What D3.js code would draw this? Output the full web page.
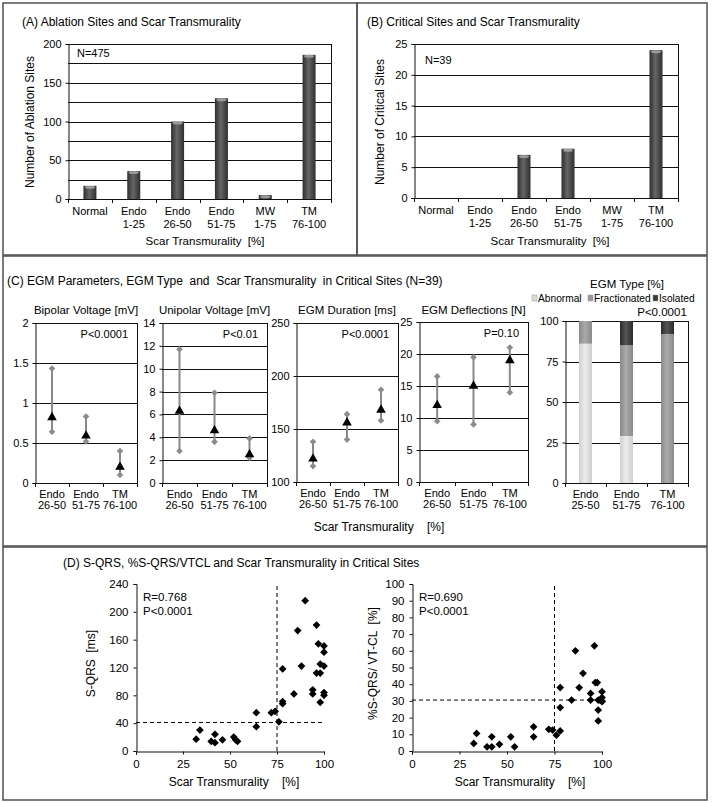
<!DOCTYPE html>
<html><head><meta charset="utf-8">
<script src="https://cdn.jsdelivr.net/npm/d3@7"></script>
<style>
body{margin:0;background:#fff;}
svg text{font-family:"Liberation Sans",Arial,sans-serif;fill:#000;white-space:pre;}
</style></head><body>
<svg id="c" width="712" height="803"></svg>
<script>
// ---------------- DATA ----------------
const catsAB = ["Normal", "Endo\n1-25", "Endo\n26-50", "Endo\n51-75", "MW\n1-75", "TM\n76-100"];
const ablationSites = [17, 36, 100, 130, 5, 186];
const criticalSites = [0, 0, 7, 8, 0, 24];
const ticksA = [0, 50, 100, 150, 200];
const ticksB = [0, 5, 10, 15, 20, 25];

const catsC = ["Endo\n26-50", "Endo\n51-75", "TM\n76-100"];
const bipolarMedian = [0.82, 0.59, 0.20];
const bipolarLow = [0.64, 0.52, 0.10];
const bipolarHigh = [1.43, 0.83, 0.40];
const unipolarMedian = [6.3, 4.6, 2.5];
const unipolarLow = [2.8, 3.6, 2.2];
const unipolarHigh = [11.7, 7.9, 3.9];
const durationMedian = [122, 156, 168];
const durationLow = [115, 140, 158];
const durationHigh = [138, 164, 187];
const deflMedian = [12, 15, 19];
const deflLow = [9.5, 9, 14];
const deflHigh = [16.5, 19.5, 21];

const catsType = ["Endo\n25-50", "Endo\n51-75", "TM\n76-100"];
const typeKeys = ["Abnormal", "Fractionated", "Isolated"];
const abnormalPct = [86, 29, 0];
const fractionatedPct = [14, 56, 92];
const isolatedPct = [0, 15, 8];

const sqrsPoints = [[32,17],[34,30],[40,14],[42,24],[42,12],[46,16],[52,20],[53,16],[54,14],
  [64,55],[64,35],[72,55],[74,57],[76,42],[78,71],[78,68],[78,118],
  [84,82],[88,122],[86,173],[90,216],[94,88],[94,82],[96,181],[97,154],[96,112],[98,112],
  [98,125],[98,70],[100,151],[100,142],[100,122],[100,84],[100,80]];
const pctPoints = [[32.5,4.5],[34,10.5],[39.5,2.5],[42,8.5],[42,2.5],[46,4],[52,8.5],[54,2.5],
  [64,14.5],[64,8.5],[72,13],[74,12.5],[76,9.5],[78,12],[78,26],[78,38],
  [84,30.5],[86,60],[88,38],[90,46.5],[94,34.5],[94,30.5],[96,63],[96.5,41],[97.5,41],
  [98,30.5],[98,24.5],[98,18],[99,30.5],[100,35.5],[100,32],[100,30],[100,29.5]];
const scatterXTicks = [0, 25, 50, 75, 100];
const sqrsTicks = [0, 40, 80, 120, 160, 200, 240];
const pctTicks = [0,10,20,30,40,50,60,70,80,90,100];

// ---------------- DRAW ----------------
const svg = d3.select("#c");
const defs = svg.append("defs");
function grad(id, c0, c1) {
  const g = defs.append("linearGradient").attr("id", id).attr("x1","0").attr("x2","1").attr("y1","0").attr("y2","0");
  g.append("stop").attr("offset","0%").attr("stop-color",c0);
  g.append("stop").attr("offset","45%").attr("stop-color",c1);
  g.append("stop").attr("offset","100%").attr("stop-color",c0);
}
grad("gBar", "#2e2e2e", "#666666");
grad("gAb", "#cfcfcf", "#ececec");
grad("gFr", "#8a8a8a", "#aaaaaa");
grad("gIs", "#2a2a2a", "#555555");

// frames
const frame = svg.append("g").attr("fill","none").attr("stroke","#505050").attr("stroke-width",1.5);
frame.append("rect").attr("x",3).attr("y",3).attr("width",354).attr("height",252);
frame.append("rect").attr("x",357).attr("y",3).attr("width",350).attr("height",252);
frame.append("rect").attr("x",3).attr("y",256).attr("width",704).attr("height",290);
frame.append("rect").attr("x",3).attr("y",547).attr("width",704).attr("height",253);

function txt(x, y, s, size, anchor) {
  return svg.append("text").attr("x",x).attr("y",y).attr("font-size",size||12)
    .attr("text-anchor",anchor||"start").text(s);
}
function vtxt(x, y, s, size) {
  return svg.append("text").attr("transform",`translate(${x},${y}) rotate(-90)`)
    .attr("font-size",size||12).attr("text-anchor","middle").attr("dominant-baseline","central").text(s);
}

function yFrame(x0, x1, y0, y1, domain, ticks, grid, fmt, box) {
  const y = d3.scaleLinear().domain(domain).range([y1, y0]);
  const g = svg.append("g");
  g.selectAll("line.grid").data(grid).join("line")
    .attr("x1",x0).attr("x2",x1).attr("y1",d=>Math.round(y(d))+0.5).attr("y2",d=>Math.round(y(d))+0.5)
    .attr("stroke","#111").attr("stroke-width",1);
  if (box) g.append("line").attr("x1",x1+0.5).attr("x2",x1+0.5).attr("y1",y0).attr("y2",y1).attr("stroke","#111");
  const ax = svg.append("g").attr("transform",`translate(${x0+0.5},0)`)
    .call(d3.axisLeft(y).tickValues(ticks).tickSize(3).tickPadding(4).tickFormat(fmt || d3.format("")));
  ax.selectAll("text").attr("font-size",11).attr("font-family",null);
  ax.selectAll("path,line").attr("stroke","#111");
  return y;
}
function bandAxis(x0, x1, y1, cats, lineH, firstDy) {
  const x = d3.scaleBand().domain(cats).range([x0, x1]);
  const g = svg.append("g");
  g.append("line").attr("x1",x0).attr("x2",x1).attr("y1",y1+0.5).attr("y2",y1+0.5).attr("stroke","#111");
  const bounds = cats.map(c => x(c)).concat([x1]);
  g.selectAll("line.t").data(bounds).join("line")
    .attr("x1",d=>Math.round(d)+0.5).attr("x2",d=>Math.round(d)+0.5).attr("y1",y1).attr("y2",y1+4).attr("stroke","#111");
  cats.forEach(c => {
    const t = g.append("text").attr("font-size",11).attr("text-anchor","middle")
      .attr("x", x(c) + x.bandwidth()/2).attr("y", y1 + firstDy);
    c.split("\n").forEach((ln, i) => t.append("tspan").attr("x", x(c)+x.bandwidth()/2).attr("dy", i ? lineH : 0).text(ln));
  });
  return x;
}
function bars(vals, x, y, y1) {
  const g = svg.append("g");
  g.selectAll("rect").data(vals).join("rect")
    .attr("x",(d,i)=>x(catsAB[i])+x.bandwidth()/2-6.5).attr("width",13)
    .attr("y",d=>y(d)).attr("height",d=>y1-y(d)).attr("fill","url(#gBar)");
  g.selectAll("ellipse").data(vals.filter(v=>v>0).map(v=>({v, i: vals.indexOf(v)}))).join("ellipse")
    .attr("cx",d=>x(catsAB[d.i])+x.bandwidth()/2).attr("cy",d=>y(d.v)+1.5).attr("rx",5).attr("ry",1.5)
    .attr("fill","#9a9a9a");
}

// ----- Panel A -----
txt(22, 26, "(A) Ablation Sites and Scar Transmurality", 12);
{
  const x0=68,x1=331,y0=44,y1=199;
  const y = yFrame(x0,x1,y0,y1,[0,200],ticksA,d3.range(25,201,25),null,true);
  const x = bandAxis(x0,x1,y1,catsAB,12.5,16);
  bars(ablationSites, x, y, y1);
  txt(77, 57, "N=475", 11);
  vtxt(30, 122, "Number of Ablation Sites", 12);
  txt(205, 245, "Scar Transmurality  [%]", 11.5, "middle");
}
// ----- Panel B -----
txt(367, 26, "(B) Critical Sites and Scar Transmurality", 12);
{
  const x0=414,x1=678,y0=44,y1=198;
  const y = yFrame(x0,x1,y0,y1,[0,25],ticksB,d3.range(5,26,5),null,true);
  const x = bandAxis(x0,x1,y1,catsAB,12.5,16);
  bars(criticalSites, x, y, y1);
  txt(425, 64, "N=39", 11);
  vtxt(380, 122, "Number of Critical Sites", 12);
  txt(550, 245, "Scar Transmurality  [%]", 11.5, "middle");
}
// ----- Panel C -----
txt(7, 285, "(C) EGM Parameters, EGM Type  and  Scar Transmurality  in Critical Sites (N=39)", 12);
function rangePlot(x0,x1,y0,y1,domain,ticks,grid,fmt,med,lo,hi,title,ptext) {
  const y = yFrame(x0,x1,y0,y1,domain,ticks,grid,fmt,true);
  const x = bandAxis(x0,x1,y1,catsC,11,15);
  const cx = i => x(catsC[i]) + x.bandwidth()/2;
  const g = svg.append("g");
  g.selectAll("line.r").data(med).join("line")
    .attr("x1",(d,i)=>cx(i)).attr("x2",(d,i)=>cx(i)).attr("y1",(d,i)=>y(lo[i])).attr("y2",(d,i)=>y(hi[i]))
    .attr("stroke","#888").attr("stroke-width",2);
  const dia = d3.symbol(d3.symbolSquare, 22);
  g.selectAll("path.lo").data(lo.concat(hi)).join("path").attr("d",dia)
    .attr("transform",(d,i)=>`translate(${cx(i%3)},${y(d)}) rotate(45)`).attr("fill","#8c8c8c");
  g.selectAll("path.med").data(med).join("path").attr("d",d3.symbol(d3.symbolTriangle,40))
    .attr("transform",(d,i)=>`translate(${cx(i)},${y(d)})`).attr("fill","#000");
  txt((x0+x1)/2, 314, title, 11.5, "middle");
  txt(x1-9, y0+15, ptext, 11, "end");
}
rangePlot(35,137,323,483,[0,2],[0,0.5,1,1.5,2],[0.5,1,1.5,2],d3.format(""),bipolarMedian,bipolarLow,bipolarHigh,"Bipolar Voltage [mV]","P<0.0001");
rangePlot(162,267,323,483,[0,14],d3.range(0,15,2),d3.range(2,15,2),null,unipolarMedian,unipolarLow,unipolarHigh,"Unipolar Voltage [mV]","P<0.01");
rangePlot(296,398,323,482,[100,250],[100,150,200,250],[150,200,250],null,durationMedian,durationLow,durationHigh,"EGM Duration [ms]","P<0.0001");
rangePlot(419,528,322,482,[0,25],d3.range(0,26,5),d3.range(5,26,5),null,deflMedian,deflLow,deflHigh,"EGM Deflections [N]","P=0.10");
txt(379, 531, "Scar Transmurality    [%]", 12, "middle");
// EGM type stacked
{
  const x0=565,x1=688,y0=321,y1=483;
  const y = yFrame(x0,x1,y0,y1,[0,100],[0,25,50,75,100],[25,50,75,100],null,true);
  const x = bandAxis(x0,x1,y1,catsType,11,15);
  const table = catsType.map((c,i)=>({cat:c, Abnormal:abnormalPct[i], Fractionated:fractionatedPct[i], Isolated:isolatedPct[i]}));
  const series = d3.stack().keys(typeKeys)(table);
  const fills = {Abnormal:"url(#gAb)", Fractionated:"url(#gFr)", Isolated:"url(#gIs)"};
  svg.append("g").selectAll("g").data(series).join("g").attr("fill",s=>fills[s.key])
    .selectAll("rect").data(s=>s).join("rect")
    .attr("x",d=>x(d.data.cat)+x.bandwidth()/2-6.5).attr("width",13)
    .attr("y",d=>y(d[1])).attr("height",d=>y(d[0])-y(d[1]));
  txt(627, 288, "EGM Type [%]", 11.5, "middle");
  const legX = [532, 588, 653];
  const legC = ["#dcdcdc","#9a9a9a","#3a3a3a"];
  typeKeys.forEach((k,i)=>{
    svg.append("rect").attr("x",legX[i]).attr("y",295).attr("width",5).attr("height",6).attr("fill",legC[i]).attr("stroke","#999").attr("stroke-width",0.5);
    txt(legX[i]+6, 302, k, 10.2);
  });
  txt(662, 316, "P<0.0001", 11.5, "middle");
}
// ----- Panel D -----
txt(63, 567, "(D) S-QRS, %S-QRS/VTCL and Scar Transmurality in Critical Sites", 12);
function scatter(x0,x1,y0,y1,ydom,yticks,pts,hline,ytitle,ytx,rtxt,ptxt,xtx) {
  const x = d3.scaleLinear().domain([0,100]).range([x0,x1]);
  const y = d3.scaleLinear().domain(ydom).range([y1,y0]);
  const ax = svg.append("g").attr("transform",`translate(0,${y1+0.5})`)
    .call(d3.axisBottom(x).tickValues(scatterXTicks).tickSize(3).tickPadding(5));
  const ay = svg.append("g").attr("transform",`translate(${x0+0.5},0)`)
    .call(d3.axisLeft(y).tickValues(yticks).tickSize(3).tickPadding(5));
  [ax,ay].forEach(a=>{a.selectAll("text").attr("font-size",11.5).attr("font-family",null); a.selectAll("path,line").attr("stroke","#111");});
  const g = svg.append("g").attr("stroke","#000").attr("stroke-dasharray","4,3").attr("stroke-width",1);
  g.append("line").attr("x1",x(75)).attr("x2",x(75)).attr("y1",y1).attr("y2",y0);
  g.append("line").attr("x1",x0).attr("x2",x1).attr("y1",y(hline)).attr("y2",y(hline));
  svg.append("g").selectAll("path").data(pts).join("path").attr("d",d3.symbol(d3.symbolSquare,30))
    .attr("transform",d=>`translate(${x(d[0])},${y(d[1])}) rotate(45)`).attr("fill","#000");
  txt(x0+7, y0+17, rtxt, 11.5);
  txt(x0+7, y0+31, ptxt, 11.5);
  vtxt(ytx, (y0+y1)/2-4, ytitle, 12);
  txt(xtx, 786, "Scar Transmurality    [%]", 12, "middle");
}
scatter(136,324,584,751,[0,240],sqrsTicks,sqrsPoints,41,"S-QRS  [ms]",91,"R=0.768","P<0.0001",234);
scatter(412,602,584,751,[0,100],pctTicks,pctPoints,30.5,"%S-QRS/ VT-CL  [%]",373,"R=0.690","P<0.0001",520);
</script>
</body></html>
